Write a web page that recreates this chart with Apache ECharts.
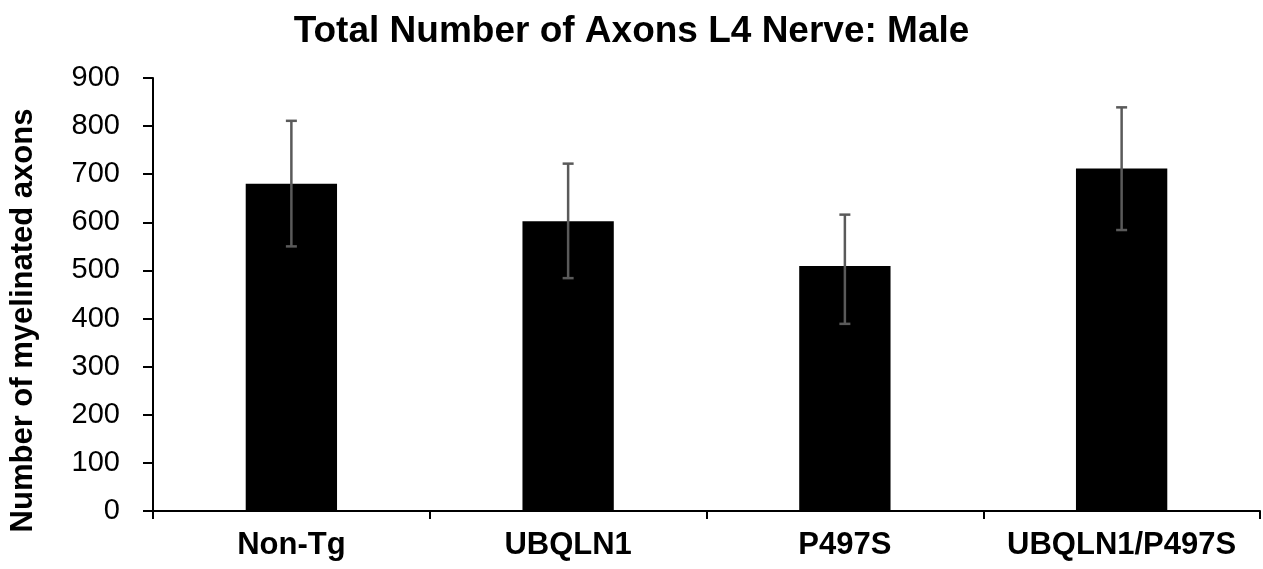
<!DOCTYPE html>
<html>
<head>
<meta charset="utf-8">
<script src="https://cdn.jsdelivr.net/npm/echarts@6/dist/echarts.min.js"></script>
<style>html,body{margin:0;padding:0;background:#fff}#c{width:1263px;height:569px}</style>
</head>
<body>
<div id="c"></div>
<script>
const categories = ['Non-Tg', 'UBQLN1', 'P497S', 'UBQLN1/P497S'];
const means = [680, 602, 509, 712];
const errUpper = [811, 722, 616, 839];
const errLower = [550, 484, 389, 584];
const yTicks = [0, 100, 200, 300, 400, 500, 600, 700, 800, 900];

const chart = echarts.init(document.getElementById('c'));
const font = 'Liberation Sans, Arial, sans-serif';
chart.setOption({
  animation: false,
  backgroundColor: '#fff',
  title: {
    text: 'Total Number of Axons L4 Nerve: Male',
    left: 'center', top: 8,
    textStyle: { fontFamily: font, fontWeight: 'bold', fontSize: 37, color: '#000' }
  },
  grid: { left: 151, right: 3, top: 78, bottom: 58, containLabel: false },
  xAxis: {
    type: 'category',
    data: categories,
    axisLine: { lineStyle: { color: '#000', width: 2 } },
    axisTick: { show: true, interval: 0, length: 8, lineStyle: { color: '#000', width: 2 } },
    axisLabel: { interval: 0, fontFamily: font, fontWeight: 'bold', fontSize: 31, color: '#000', margin: 19 }
  },
  yAxis: {
    type: 'value',
    min: yTicks[0], max: yTicks[yTicks.length - 1], interval: 100,
    name: 'Number of myelinated axons',
    nameLocation: 'middle',
    nameGap: 114,
    nameTextStyle: { fontFamily: font, fontWeight: 'bold', fontSize: 31, color: '#000', padding: [0, 52, 0, 0] },
    axisLine: { show: true, lineStyle: { color: '#000', width: 2 } },
    axisTick: { show: true, length: 10, lineStyle: { color: '#000', width: 2 } },
    axisLabel: { fontFamily: font, fontSize: 29, color: '#000', margin: 33 },
    splitLine: { show: false }
  },
  series: [
    {
      type: 'bar',
      data: means,
      barWidth: '33%',
      itemStyle: { color: '#000' }
    },
    {
      type: 'custom',
      data: means.map((m, i) => [i, errLower[i], errUpper[i]]),
      renderItem: function (params, api) {
        const x = api.value(0);
        const lo = api.coord([x, api.value(1)]);
        const hi = api.coord([x, api.value(2)]);
        const hw = 5.5;
        const st = { stroke: '#5a5a5a', lineWidth: 2.5 };
        return {
          type: 'group',
          children: [
            { type: 'line', shape: { x1: lo[0], y1: lo[1], x2: hi[0], y2: hi[1] }, style: st },
            { type: 'line', shape: { x1: hi[0] - hw, y1: hi[1], x2: hi[0] + hw, y2: hi[1] }, style: st },
            { type: 'line', shape: { x1: lo[0] - hw, y1: lo[1], x2: lo[0] + hw, y2: lo[1] }, style: st }
          ]
        };
      },
      z: 10
    }
  ]
});
</script>
</body>
</html>
